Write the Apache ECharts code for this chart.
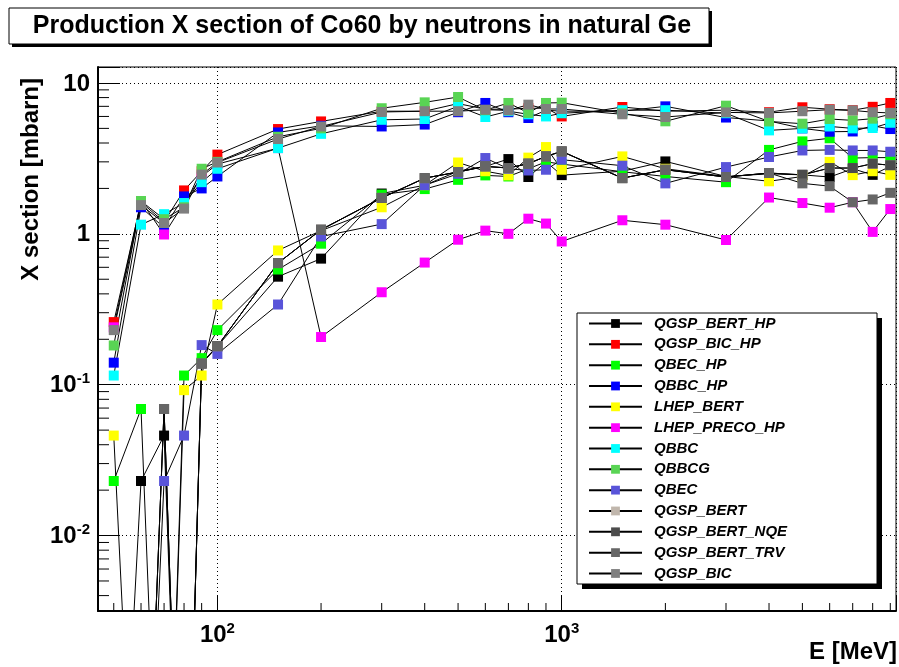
<!DOCTYPE html>
<html>
<head>
<meta charset="utf-8">
<script src="https://cdn.jsdelivr.net/npm/echarts@6/dist/echarts.min.js"></script>
<style>
  html, body { margin: 0; padding: 0; background: #fff; }
  #chart { width: 899px; height: 667px; }
</style>
</head>
<body>
<div id="chart"></div>
<script>
// zero entries in the original graphs: they fall far below the axis
const OFF = 1e-5

// beam energies (MeV)
const energies = [50, 60, 70, 80, 90, 100, 150, 200, 300, 400, 500, 600, 700, 800, 900, 1000, 1500, 2000, 3000, 4000, 5000, 6000, 7000, 8000, 9000]

// cross sections (mbarn), one list per physics list
const qgspBertHp = [OFF, 0.023, 0.046, OFF, 0.14, 0.18, 0.52, 0.685, 1.85, 2.1, 2.6, 2.8, 3.13, 2.38, 3.0, 2.45, 2.6, 3.02, 2.4, 2.5, 2.46, 2.38, 2.7, 2.46, 2.8]
const qgspBicHp = [0.26, 1.62, 1.2, 1.94, 2.6, 3.35, 4.95, 5.56, 6.5, 6.5, 7.3, 6.7, 6.7, 6.8, 6.8, 6.0, 6.93, 6.5, 6.6, 6.4, 6.9, 6.7, 6.6, 6.95, 7.37]
const qbecHp = [0.023, 0.069, OFF, 0.115, 0.15, 0.23, 0.58, 0.86, 1.82, 1.98, 2.28, 2.44, 2.4, 2.7, 3.0, 2.9, 2.58, 2.4, 2.2, 3.6, 4.1, 4.3, 3.18, 3.2, 3.2]
const qbbcHp = [0.14, 1.5, 1.1, 1.77, 2.0, 2.4, 4.7, 5.2, 5.15, 5.3, 6.4, 7.37, 6.4, 5.86, 6.6, 6.5, 6.5, 7.0, 5.9, 5.6, 5.0, 4.75, 4.77, 5.2, 4.95]
const lhepBert = [0.046, OFF, OFF, 0.092, 0.115, 0.34, 0.776, 1.05, 1.5, 2.1, 2.97, 2.6, 2.44, 3.2, 3.76, 2.66, 3.26, 2.7, 2.4, 2.23, 2.4, 3.0, 2.45, 2.6, 2.46]
const lhepPrecoHp = [0.24, 1.65, 0.99, 1.6, 2.4, 2.9, 3.7, 0.207, 0.41, 0.645, 0.914, 1.05, 1.0, 1.26, 1.17, 0.89, 1.23, 1.15, 0.91, 1.74, 1.6, 1.49, 1.62, 1.03, 1.46]
const qbbc = [0.115, 1.15, 1.35, 1.6, 2.2, 2.7, 3.7, 4.6, 5.7, 5.77, 7.0, 5.95, 6.5, 6.2, 6.0, 6.3, 6.6, 6.6, 6.3, 4.85, 5.0, 5.15, 5.0, 5.03, 5.45]
const qbbcg = [0.182, 1.65, 1.25, 1.5, 2.7, 3.0, 4.4, 5.0, 6.8, 7.44, 8.07, 6.6, 7.37, 6.33, 7.37, 7.4, 6.3, 5.57, 7.07, 5.56, 5.37, 5.77, 5.65, 5.8, 6.2]
const qbec = [OFF, OFF, 0.023, 0.046, 0.183, 0.16, 0.34, 0.96, 1.16, 2.1, 2.5, 3.18, 2.7, 2.63, 2.66, 3.1, 2.83, 2.16, 2.77, 3.23, 3.57, 3.6, 3.57, 3.57, 3.5]
const qgspBert = [OFF, OFF, 0.069, OFF, 0.138, 0.18, 0.64, 1.065, 1.73, 2.34, 2.57, 2.8, 2.73, 2.92, 3.26, 3.52, 2.34, 2.66, 2.38, 2.53, 2.46, 2.73, 2.73, 2.92, 2.85]
const qgspBertNqe = [OFF, OFF, 0.069, OFF, 0.138, 0.18, 0.64, 1.065, 1.73, 2.34, 2.57, 2.8, 2.73, 2.92, 3.26, 3.52, 2.34, 2.66, 2.38, 2.53, 2.46, 2.73, 2.73, 2.92, 2.85]
const qgspBertTrv = [OFF, OFF, 0.069, OFF, 0.138, 0.18, 0.64, 1.065, 1.73, 2.34, 2.57, 2.8, 2.73, 2.92, 3.26, 3.52, 2.34, 2.66, 2.38, 2.53, 2.16, 2.07, 1.62, 1.69, 1.87]
const qgspBic = [0.23, 1.55, 1.18, 1.47, 2.47, 2.97, 4.25, 5.15, 6.42, 6.5, 6.5, 6.65, 6.58, 7.18, 6.72, 6.72, 6.2, 5.95, 6.38, 6.33, 6.5, 6.65, 6.58, 6.4, 6.33]

const seriesNames = ["QGSP_BERT_HP", "QGSP_BIC_HP", "QBEC_HP", "QBBC_HP", "LHEP_BERT", "LHEP_PRECO_HP", "QBBC", "QBBCG", "QBEC", "QGSP_BERT", "QGSP_BERT_NQE", "QGSP_BERT_TRV", "QGSP_BIC"]
const seriesValues = [qgspBertHp, qgspBicHp, qbecHp, qbbcHp, lhepBert, lhepPrecoHp, qbbc, qbbcg, qbec, qgspBert, qgspBertNqe, qgspBertTrv, qgspBic]
// ROOT colours 1,2,3,4,5,6,7,8,9,11,12,13,14
const seriesColors = ["#000000", "#ff0000", "#00ff00", "#0000ff", "#ffff00", "#ff00ff", "#00ffff", "#59d454", "#5954d9", "#c0b6ac", "#4c4c4c", "#666666", "#7f7f7f"]

// axis ranges
const xRange = [45, 9350]
const yRange = [0.003162, 12.76]

const FONT = "'Liberation Sans', Arial, Helvetica, sans-serif"

const chart = echarts.init(document.getElementById("chart"), null, { renderer: "canvas" })

function decadeLabel(v, plainUpTo) {
  const lg = Math.log10(v)
  const e = Math.round(lg)
  if (Math.abs(lg - e) > 1e-6) return ""
  if (plainUpTo && (e === 0 || e === 1)) return "{b|" + Math.pow(10, e) + "}"
  return "{b|10}{s|" + e + "}"
}

const labelRich = {
  b: { fontFamily: FONT, fontWeight: "bold", fontSize: 24, lineHeight: 26, color: "#000", verticalAlign: "bottom" },
  s: { fontFamily: FONT, fontWeight: "bold", fontSize: 15, lineHeight: 15, color: "#000", verticalAlign: "top" }
}

const option = {
  animation: false,
  backgroundColor: "#ffffff",
  grid: {
    left: 98, right: 2, top: 67, bottom: 56,
    show: true, borderColor: "#000", borderWidth: 1, backgroundColor: "#fff"
  },
  xAxis: {
    type: "log",
    logBase: 10,
    min: xRange[0],
    max: xRange[1],
    axisLine: { lineStyle: { color: "#000", width: 2 } },
    axisTick: { inside: true, length: 16, lineStyle: { color: "#000", width: 1 } },
    axisLabel: {
      margin: 10,
      formatter: v => decadeLabel(v, false),
      rich: labelRich
    },
    splitLine: { show: true, lineStyle: { color: "#000", type: [1, 3], width: 1 } }
  },
  yAxis: {
    type: "log",
    logBase: 10,
    min: yRange[0],
    max: yRange[1],
    axisLine: { lineStyle: { color: "#000", width: 2 } },
    axisTick: { inside: true, length: 22, lineStyle: { color: "#000", width: 1 } },
    axisLabel: {
      margin: 8,
      formatter: v => decadeLabel(v, true),
      rich: labelRich
    },
    splitLine: { show: true, lineStyle: { color: "#000", type: [1, 3], width: 1 } }
  },
  legend: {
    show: true,
    orient: "vertical",
    left: 588,
    top: 316,
    padding: 0,
    itemWidth: 53,
    itemHeight: 11,
    itemGap: 5.83,
    z: 10,
    selectedMode: false,
    data: seriesNames,
    textStyle: {
      fontFamily: FONT,
      fontWeight: "bold",
      fontStyle: "italic",
      fontSize: 15,
      color: "#000",
      padding: [0, 0, 0, 7]
    }
  },
  series: seriesNames.map((name, i) => ({
    name: name,
    type: "line",
    data: energies.map((e, j) => [e, seriesValues[i][j]]),
    symbol: "rect",
    symbolSize: 10,
    showSymbol: true,
    clip: true,
    lineStyle: { color: "#000", width: 1 },
    itemStyle: { color: seriesColors[i], borderWidth: 0 },
    emphasis: { disabled: true }
  }))
}

chart.setOption(option)

// minor ticks and boxes, placed through the axes' own scales
const graphics = []
const x0 = chart.convertToPixel({ xAxisIndex: 0 }, xRange[0])
const yBottom = chart.convertToPixel({ yAxisIndex: 0 }, yRange[0])

for (let p = 1; p <= 3; p++) {
  for (let k = 2; k <= 9; k++) {
    const v = k * Math.pow(10, p)
    if (v <= xRange[0] || v >= xRange[1]) continue
    const px = chart.convertToPixel({ xAxisIndex: 0 }, v)
    graphics.push({ type: "line", z: 6, shape: { x1: px, y1: yBottom, x2: px, y2: yBottom - 8 }, style: { stroke: "#000", lineWidth: 1 } })
  }
}
for (let p = -3; p <= 1; p++) {
  for (let k = 2; k <= 9; k++) {
    const v = k * Math.pow(10, p)
    if (v <= yRange[0] || v >= yRange[1]) continue
    const py = chart.convertToPixel({ yAxisIndex: 0 }, v)
    graphics.push({ type: "line", z: 6, shape: { x1: x0, y1: py, x2: x0 + 11, y2: py }, style: { stroke: "#000", lineWidth: 1 } })
  }
}

// title box with shadow
graphics.push(
  { type: "rect", z: 6, shape: { x: 12, y: 11, width: 700, height: 36 }, style: { fill: "#000" } },
  { type: "rect", z: 7, shape: { x: 9, y: 8, width: 700, height: 36 }, style: { fill: "#fff", stroke: "#000", lineWidth: 1 } },
  {
    type: "text", z: 8, x: 362, y: 26,
    style: {
      text: "Production X section of Co60 by neutrons in natural Ge",
      font: "bold 25px " + FONT, fill: "#000", align: "center", verticalAlign: "middle"
    }
  }
)

// legend box with shadow
graphics.push(
  { type: "rect", z: 6, shape: { x: 582, y: 318, width: 300, height: 271 }, style: { fill: "#000" } },
  { type: "rect", z: 7, shape: { x: 577, y: 313, width: 300, height: 271 }, style: { fill: "#fff", stroke: "#000", lineWidth: 1 } }
)

// axis titles
graphics.push(
  {
    type: "text", z: 8, x: 31, y: 78, rotation: Math.PI / 2,
    style: { text: "X section [mbarn]", font: "bold 24px " + FONT, fill: "#000", align: "right", verticalAlign: "middle" }
  },
  {
    type: "text", z: 8, x: 897, y: 652,
    style: { text: "E [MeV]", font: "bold 24px " + FONT, fill: "#000", align: "right", verticalAlign: "middle" }
  }
)

chart.setOption({ graphic: { elements: graphics } })
</script>
</body>
</html>
